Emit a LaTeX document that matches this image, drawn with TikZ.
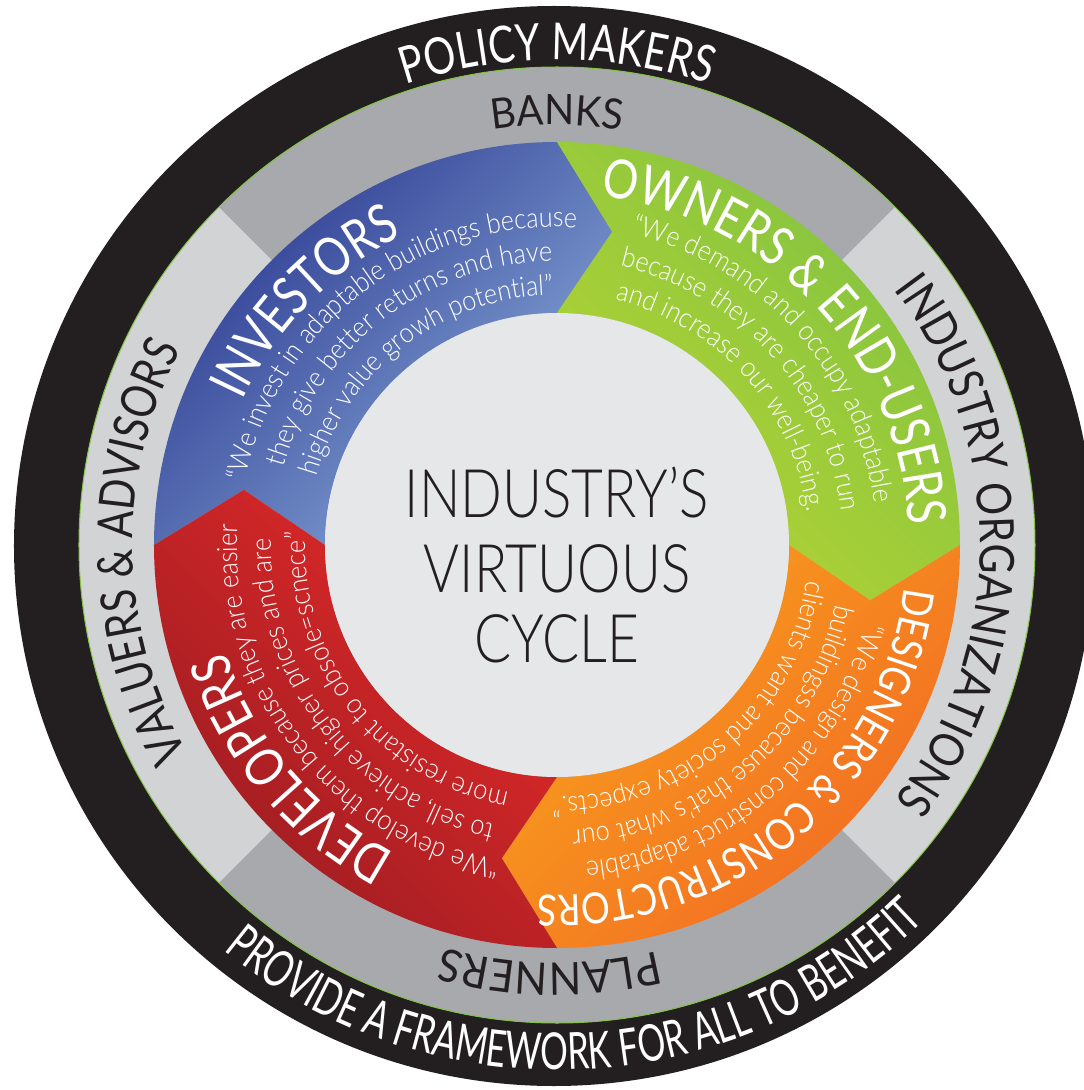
\documentclass[tikz,border=0pt]{standalone}
\usepackage{fontspec}
\setmainfont{Lato}
\usetikzlibrary{decorations.text}
\newfontfamily\gsfont{Lato}
\newfontfamily\gslight{Lato Light}
\newcommand\tf[2]{\gsfont\fontsize{#1}{#1}\selectfont\addfontfeature{FakeStretch=#2}}
\newcommand\lf[2]{\gslight\fontsize{#1}{#1}\selectfont\addfontfeature{FakeStretch=#2}}
\definecolor{ringblack}{HTML}{231F20}
\definecolor{gdark}{HTML}{A7A9AC}
\definecolor{glight}{HTML}{D1D3D4}
\definecolor{ginner}{HTML}{E6E7E8}
\definecolor{bluedark}{HTML}{2B3990}
\definecolor{bluelight}{HTML}{89AAD9}
\definecolor{greendark}{HTML}{82C341}
\definecolor{greenlight}{HTML}{B6D433}
\definecolor{orangelight}{HTML}{F8A01C}
\definecolor{orangedark}{HTML}{F26A24}
\definecolor{redlight}{HTML}{E52A2A}
\definecolor{reddark}{HTML}{9A1C21}
% #1 format, #2 text, #3 radius, #4 start angle, #5 end angle
\newcommand\arctext[5]{%
  \path[decorate,decoration={text along path,text align=center,text={|#1|#2}}]
    (#4:#3) arc[start angle=#4,end angle=#5,radius=#3];}
\begin{document}
\begin{tikzpicture}[x=1pt,y=1pt]
\useasboundingbox (-557,-545) rectangle (527,545);
% rings
\fill[ringblack] (-3,-1) circle (540);
\fill[glight] (0,0) circle (478);
\fill[gdark] (0,0) -- (45:478) arc[start angle=45,end angle=135,radius=478] -- cycle;
\fill[gdark] (0,0) -- (225:478) arc[start angle=225,end angle=315,radius=478] -- cycle;
\draw[greendark,line width=1pt] (0,0) circle (478);
% coloured segments
\shade[left color=bluedark,right color=bluelight,shading angle=45]
  (180:403) arc[start angle=180,end angle=90,radius=403] -- (80:318) -- (90:232)
  arc[start angle=90,end angle=180,radius=232] -- (170:318) -- cycle;
\shade[left color=greenlight,right color=greendark,shading angle=135]
  (90:403) arc[start angle=90,end angle=0,radius=403] -- (-10:318) -- (0:232)
  arc[start angle=0,end angle=90,radius=232] -- (80:318) -- cycle;
\shade[left color=orangelight,right color=orangedark,shading angle=45]
  (0:403) arc[start angle=0,end angle=-90,radius=403] -- (-100:318) -- (-90:232)
  arc[start angle=-90,end angle=0,radius=232] -- (-10:318) -- cycle;
\shade[left color=reddark,right color=redlight,shading angle=135]
  (270:403) arc[start angle=270,end angle=180,radius=403] -- (170:318) -- (180:232)
  arc[start angle=180,end angle=270,radius=232] -- (260:318) -- cycle;
\fill[ginner] (0,0) circle (232);
% centre text
\node[anchor=base,font=\lf{67}{0.82},text=ringblack,inner sep=0] (c1) at (0,28) {INDUSTRY’S};
\node[anchor=base,font=\lf{67}{0.82},text=ringblack,inner sep=0] (c2) at (0,-47) {VIRTUOUS};
\node[anchor=base,font=\lf{67}{0.82},text=ringblack,inner sep=0] (c3) at (0,-117) {CYCLE};
% black ring texts
\arctext{\tf{51}{0.78}\color{white}}{POLICY MAKERS}{485}{150}{30}
\arctext{\tf{51}{0.68}\color{white}}{PROVIDE A FRAMEWORK FOR ALL TO BENEFIT}{525}{182.5}{362.5}
% grey ring texts
\arctext{\tf{42}{0.94}\color{ringblack}}{BANKS}{420}{130}{50}
\arctext{\tf{45}{0.95}\color{ringblack}}{PLANNERS}{418}{309}{229}
\arctext{\tf{49}{0.82}\color{ringblack}}{VALUERS {\&} ADVISORS}{424}{241}{121}
\arctext{\tf{48}{0.86}\color{ringblack}}{INDUSTRY ORGANIZATIONS}{423}{60}{-60}
% titles
\arctext{\tf{54}{0.8}\color{white}}{INVESTORS}{346}{176}{96}
\arctext{\tf{54}{0.82}\color{white}}{OWNERS {\&} END-USERS}{352}{93}{-7}
\arctext{\tf{43}{0.84}\color{white}}{DESIGNERS {\&} CONSTRUCTORS}{350}{0}{-100}
\arctext{\tf{54}{0.8}\color{white}}{DEVELOPERS}{348}{260}{180}
% quotes
\arctext{\lf{28}{0.9}\color{white}}{“We invest in adaptable buildings because}{318}{197.5}{57.5}
\arctext{\lf{28}{0.9}\color{white}}{they give better returns and have}{284}{197.5}{57.5}
\arctext{\lf{28}{0.9}\color{white}}{higher value growh potential”}{250}{197.5}{57.5}
\arctext{\lf{28}{0.9}\color{white}}{“We demand and occupy adaptable}{320}{112}{-28}
\arctext{\lf{28}{0.9}\color{white}}{because they are cheaper to run}{286}{112}{-28}
\arctext{\lf{28}{0.9}\color{white}}{and increase our well-being.}{252}{112}{-28}
\arctext{\lf{28}{0.9}\color{white}}{“We design and construct adaptable}{318}{20.5}{-119.5}
\arctext{\lf{28}{0.9}\color{white}}{buildingss because that’s what our}{285}{20.5}{-119.5}
\arctext{\lf{28}{0.9}\color{white}}{clients want and society expects.”}{252}{20.5}{-119.5}
\arctext{\lf{28}{0.9}\color{white}}{“We develop them because they are easier}{320}{288}{148}
\arctext{\lf{28}{0.9}\color{white}}{to sell, achieve higher prices and are}{286}{288}{148}
\arctext{\lf{28}{0.9}\color{white}}{more resistant to obsole=scnece”}{252}{288}{148}
\end{tikzpicture}
\end{document}
